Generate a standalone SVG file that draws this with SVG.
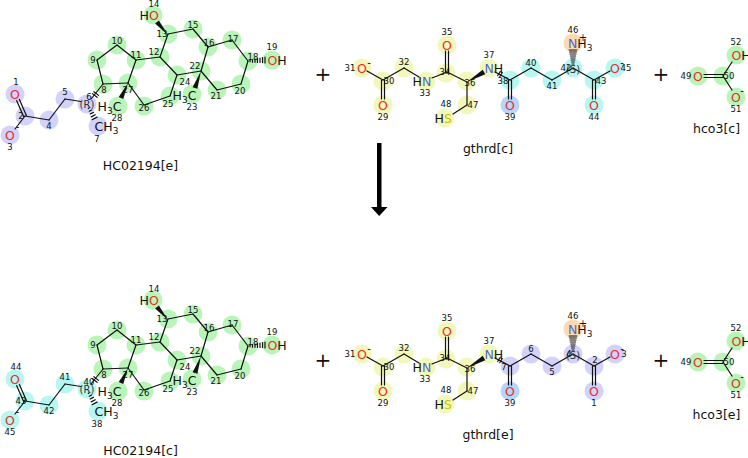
<svg xmlns="http://www.w3.org/2000/svg" width="748" height="458" viewBox="0 0 748 458">
<style>
text{font-family:"DejaVu Sans","Liberation Sans",sans-serif;text-anchor:middle;fill:#111}
.a{font-size:12.5px}
.n{font-size:8.5px}
.s{font-size:10px;fill:#333}
.q{font-size:10px}
.t{font-size:12.5px}
.p{font-size:20px}
.l{text-anchor:start}
.o{fill:#ec2d2d}
.N{fill:#4a68c8}
.S{fill:#c4c400}
.sub{font-size:9px}
circle{stroke:none}
.cl{fill:#d2d2fa}
.cg{fill:#b9f5b9}
.cc{fill:#b6f7f1}
.cy{fill:#f1f8b9}
.co{fill:#fbd9b2}
.cb{fill:#b7d5fb}
line,.b{stroke:#111;stroke-width:1.2;fill:none;stroke-linecap:round}
.w{fill:#111;stroke:none}
</style>
<defs>
<g id="steroidBonds">
<line x1="103" y1="84" x2="97" y2="60"/><line x1="97" y1="60" x2="117" y2="45"/><line x1="117" y1="45" x2="136" y2="60"/><line x1="136" y1="60" x2="128" y2="83"/><line x1="128" y1="83" x2="103" y2="84"/>
<line x1="128" y1="83" x2="144" y2="105"/><line x1="144" y1="105" x2="170" y2="96"/><line x1="170" y1="96" x2="177" y2="75"/><line x1="177" y1="75" x2="160" y2="57"/><line x1="160" y1="57" x2="136" y2="60"/>
<line x1="160" y1="57" x2="168" y2="34"/><line x1="168" y1="34" x2="193" y2="29"/><line x1="193" y1="29" x2="208" y2="47"/><line x1="208" y1="47" x2="201" y2="71"/><line x1="201" y1="71" x2="177" y2="75"/>
<line x1="208" y1="47" x2="232" y2="40"/><line x1="232" y1="40" x2="248" y2="61"/><line x1="248" y1="61" x2="241" y2="84"/><line x1="241" y1="84" x2="217" y2="90"/><line x1="217" y1="90" x2="201" y2="71"/>
<polygon class="w" points="128,83 123.3,99.1 118.7,96.9"/>
<polygon class="w" points="201,71 197.4,88.8 192.6,87.2"/>
<polygon class="w" points="168,35 158.9,20.4 155.1,23.6"/>
<line x1="250" y1="60.2" x2="250" y2="61.8"/><line x1="252.5" y1="59.6" x2="252.5" y2="62.2"/><line x1="255" y1="59.1" x2="255" y2="62.3"/><line x1="257.5" y1="58.6" x2="257.5" y2="62.4"/><line x1="260" y1="58.1" x2="260" y2="62.5"/><line x1="262.5" y1="57.6" x2="262.5" y2="62.6"/><line x1="265" y1="57.1" x2="265" y2="62.9"/>
<line x1="26.4" y1="115.4" x2="19.4" y2="99.4"/><line x1="23.6" y1="116.6" x2="16.6" y2="100.6"/>
<line x1="25" y1="116" x2="15" y2="129"/><line x1="25" y1="116" x2="49" y2="120"/><line x1="49" y1="120" x2="65" y2="99"/><line x1="65" y1="99" x2="81" y2="101.5"/><line x1="91" y1="99" x2="103" y2="84"/>
<line x1="92.4" y1="93.6" x2="97.1" y2="97.3"/><line x1="93.9" y1="91.7" x2="98.6" y2="95.4"/>
<line x1="88.3" y1="108.4" x2="89.7" y2="107.6"/><line x1="89.25" y1="111.2" x2="91.55" y2="110"/><line x1="90.2" y1="114.05" x2="93.4" y2="112.35"/><line x1="91.2" y1="116.9" x2="95.2" y2="114.7"/><line x1="92.1" y1="119.7" x2="97.1" y2="117.1"/>
</g>
<g id="steroidGreen">
<circle class="cg" cx="103" cy="84" r="9.5"/><circle class="cg" cx="97" cy="60" r="9.5"/><circle class="cg" cx="117" cy="45" r="9.5"/><circle class="cg" cx="136" cy="60" r="9.5"/><circle class="cg" cx="128" cy="83" r="9.5"/><circle class="cg" cx="118" cy="106" r="9.5"/><circle class="cg" cx="144" cy="106" r="9.5"/><circle class="cg" cx="170" cy="96" r="9.5"/><circle class="cg" cx="177" cy="75" r="9.5"/><circle class="cg" cx="160" cy="57" r="9.5"/><circle class="cg" cx="168" cy="34" r="9.5"/><circle class="cg" cx="153" cy="15" r="9.5"/><circle class="cg" cx="193" cy="29" r="9.5"/><circle class="cg" cx="208" cy="47" r="9.5"/><circle class="cg" cx="232" cy="40" r="9.5"/><circle class="cg" cx="248" cy="61" r="9.5"/><circle class="cg" cx="272" cy="60" r="9.5"/><circle class="cg" cx="241" cy="84" r="9.5"/><circle class="cg" cx="217" cy="90" r="9.5"/><circle class="cg" cx="201" cy="71" r="9.5"/><circle class="cg" cx="192" cy="94" r="9.5"/>
</g>
<g id="steroidText">
<text class="n" x="104" y="93">8</text><text class="n" x="93" y="63">9</text><text class="n" x="117" y="44">10</text><text class="n" x="136" y="58">11</text><text class="n" x="128" y="93">27</text>
<text class="a l" x="97.5" y="110.5">H<tspan class="sub" dy="3">3</tspan><tspan dy="-3">C</tspan></text><text class="n" x="117" y="121">28</text>
<text class="n" x="144" y="111">26</text><text class="n" x="154" y="55">12</text><text class="n" x="162" y="37">13</text>
<text class="a l" x="139.5" y="19.5">H<tspan class="o">O</tspan></text><text class="n" x="154" y="7">14</text>
<text class="n" x="193" y="28">15</text><text class="n" x="209" y="46">16</text><text class="n" x="233" y="42">17</text><text class="n" x="253" y="60">18</text>
<text class="a l" x="267.5" y="64.5"><tspan class="o">O</tspan>H</text><text class="n" x="272" y="50">19</text>
<text class="n" x="240" y="94">20</text><text class="n" x="216" y="99">21</text><text class="n" x="195" y="69">22</text><text class="n" x="185" y="85">24</text>
<text class="a l" x="172.5" y="99.5">H<tspan class="sub" dy="3">3</tspan><tspan dy="-3">C</tspan></text><text class="n" x="192" y="110">23</text><text class="n" x="168" y="107">25</text>
<text class="a o" x="15" y="98.5">O</text><text class="a o" x="10" y="139.5">O</text><text class="q" x="17.5" y="130">-</text>
<text class="s" x="87" y="107.5">(R)</text>
<text class="a l" x="94.5" y="131">CH<tspan class="sub" dy="3">3</tspan></text>
</g>
<g id="gthBonds">
<line x1="367" y1="71" x2="383" y2="80"/><line x1="381.5" y1="80" x2="381.5" y2="99"/><line x1="384.5" y1="80" x2="384.5" y2="99"/><line x1="383" y1="80" x2="404" y2="68"/><line x1="404" y1="68" x2="419" y2="77"/><line x1="432" y1="78" x2="447" y2="72"/>
<line x1="445.5" y1="72" x2="445.5" y2="51"/><line x1="448.5" y1="72" x2="448.5" y2="51"/><line x1="447" y1="72" x2="467" y2="82"/>
<polygon class="w" points="467,82 485.3,74.2 482.7,69.8"/>
<line x1="467" y1="82" x2="467" y2="105"/><line x1="467" y1="105" x2="453" y2="114"/>
<line x1="495" y1="72" x2="510" y2="80"/><line x1="497.7" y1="75.5" x2="500.3" y2="71.3"/><line x1="499.7" y1="76.7" x2="502.3" y2="72.5"/>
<line x1="508.5" y1="80" x2="508.5" y2="99"/><line x1="511.5" y1="80" x2="511.5" y2="99"/>
<line x1="510" y1="80" x2="531" y2="68"/><line x1="531" y1="68" x2="552" y2="80"/><line x1="552" y1="80" x2="573" y2="68"/>
<line x1="572" y1="64" x2="574" y2="64"/><line x1="571.6" y1="62" x2="574.4" y2="62"/><line x1="571.2" y1="60" x2="574.8" y2="60"/><line x1="570.8" y1="58" x2="575.2" y2="58"/><line x1="570.4" y1="56" x2="575.6" y2="56"/><line x1="570" y1="54" x2="576" y2="54"/><line x1="569.6" y1="52" x2="576.4" y2="52"/><line x1="569.2" y1="50" x2="576.8" y2="50"/>
<line x1="573" y1="68" x2="594" y2="80"/><line x1="592.5" y1="80" x2="592.5" y2="99"/><line x1="595.5" y1="80" x2="595.5" y2="99"/><line x1="594" y1="80" x2="610" y2="71"/>
</g>
<g id="gthYellow">
<circle class="cy" cx="362" cy="68" r="9.5"/><circle class="cy" cx="383" cy="81" r="9.5"/><circle class="cy" cx="383" cy="105" r="9.5"/><circle class="cy" cx="404" cy="68" r="9.5"/><circle class="cy" cx="426" cy="81" r="9.5"/><circle class="cy" cx="446" cy="73" r="9.5"/><circle class="cy" cx="447" cy="45" r="9.5"/><circle class="cy" cx="467" cy="81" r="9.5"/><circle class="cy" cx="489" cy="68" r="9.5"/><circle class="cy" cx="467" cy="105" r="9.5"/><circle class="cy" cx="445" cy="118" r="9.5"/>
<circle class="cb" cx="510" cy="105" r="9.5"/><circle class="co" cx="573" cy="43" r="9.5"/>
</g>
<g id="gthText">
<text class="a o" x="362" y="72.5">O</text><text class="n" x="350" y="71">31</text><text class="q" x="369" y="66">-</text>
<text class="n" x="389" y="84">30</text><text class="a o" x="383" y="109.5">O</text><text class="n" x="383" y="120">29</text>
<text class="n" x="404" y="65">32</text><text class="a l" x="412.5" y="85.5">H<tspan class="N">N</tspan></text><text class="n" x="425" y="96">33</text>
<text class="n" x="445" y="75">34</text><text class="a o" x="447" y="49.5">O</text><text class="n" x="447" y="35">35</text><text class="n" x="470" y="86">36</text>
<text class="a l" x="484.5" y="72.5"><tspan class="N">N</tspan>H</text><text class="n" x="489" y="58">37</text>
<text class="n" x="473" y="108">47</text><text class="a l" x="434.5" y="122.5">H<tspan class="S">S</tspan></text><text class="n" x="446" y="107">48</text>
<text class="a o" x="510" y="109.5">O</text><text class="n" x="510" y="120">39</text>
<text class="s" x="573" y="72.5">(S)</text>
<text class="a l" x="568" y="47.5"><tspan class="N">N</tspan>H<tspan class="sub" dy="3">3</tspan></text><text class="q" x="583" y="40.5">+</text><text class="n" x="573" y="33">46</text>
<text class="a o" x="594" y="109.5">O</text><text class="a o" x="615" y="72.5">O</text><text class="q" x="622" y="66">-</text>
</g>
<g id="hcoAll">
<circle class="cg" cx="698" cy="76" r="9.5"/><circle class="cg" cx="723" cy="76" r="9.5"/><circle class="cg" cx="736" cy="55" r="9.5"/><circle class="cg" cx="736" cy="97" r="9.5"/>
<line x1="704" y1="74.5" x2="723" y2="74.5"/><line x1="704" y1="77.5" x2="723" y2="77.5"/><line x1="723" y1="76" x2="732" y2="62"/><line x1="723" y1="76" x2="732" y2="90"/>
<text class="a o" x="698" y="80.5">O</text><text class="n" x="686" y="79">49</text><text class="n" x="729" y="79">50</text>
<text class="a l" x="731.5" y="59.5"><tspan class="o">O</tspan>H</text><text class="n" x="736" y="45">52</text>
<text class="a o" x="736" y="101.5">O</text><text class="q" x="742" y="94">-</text><text class="n" x="736" y="112">51</text>
</g>
</defs>

<g id="HC02194_e">
<circle class="cl" cx="15" cy="94" r="9.5"/><circle class="cl" cx="25" cy="116" r="9.5"/><circle class="cl" cx="10" cy="135" r="9.5"/><circle class="cl" cx="49" cy="120" r="9.5"/><circle class="cl" cx="65" cy="99" r="9.5"/><circle class="cl" cx="87" cy="104" r="9.5"/><circle class="cl" cx="98" cy="126" r="9.5"/>
<use href="#steroidGreen"/>
<use href="#steroidBonds"/>
<use href="#steroidText"/>
<text class="n" x="16" y="85">1</text><text class="n" x="21" y="119">2</text><text class="n" x="10" y="150">3</text><text class="n" x="49" y="129">4</text><text class="n" x="65" y="95">5</text><text class="n" x="89" y="100">6</text><text class="n" x="97" y="142">7</text>
<text class="t" x="140.5" y="170">HC02194[e]</text>
</g>

<g id="gthrd_c">
<circle class="cc" cx="510" cy="80" r="9.5"/><circle class="cc" cx="531" cy="68" r="9.5"/><circle class="cc" cx="552" cy="80" r="9.5"/><circle class="cc" cx="573" cy="68" r="9.5"/><circle class="cc" cx="594" cy="80" r="9.5"/><circle class="cc" cx="594" cy="105" r="9.5"/><circle class="cc" cx="615" cy="68" r="9.5"/>
<use href="#gthYellow"/>
<use href="#gthBonds"/>
<use href="#gthText"/>
<text class="n" x="503" y="84">38</text><text class="n" x="531" y="66">40</text><text class="n" x="552" y="89">41</text><text class="n" x="566" y="71">42</text><text class="n" x="601" y="84">43</text><text class="n" x="594" y="120">44</text><text class="n" x="626" y="71">45</text>
<text class="t" x="488" y="153">gthrd[c]</text>
</g>

<g id="hco3_c">
<use href="#hcoAll"/>
<text class="t" x="716.5" y="133">hco3[c]</text>
</g>

<g id="HC02194_c" transform="translate(0,285)">
<circle class="cc" cx="15" cy="94" r="9.5"/><circle class="cc" cx="25" cy="116" r="9.5"/><circle class="cc" cx="10" cy="135" r="9.5"/><circle class="cc" cx="49" cy="120" r="9.5"/><circle class="cc" cx="65" cy="99" r="9.5"/><circle class="cc" cx="87" cy="104" r="9.5"/><circle class="cc" cx="98" cy="126" r="9.5"/>
<use href="#steroidGreen"/>
<use href="#steroidBonds"/>
<use href="#steroidText"/>
<text class="n" x="16" y="85">44</text><text class="n" x="21" y="119">43</text><text class="n" x="10" y="150">45</text><text class="n" x="49" y="129">42</text><text class="n" x="65" y="95">41</text><text class="n" x="89" y="100">40</text><text class="n" x="97" y="142">38</text>
<text class="t" x="140.5" y="170">HC02194[c]</text>
</g>

<g id="gthrd_e" transform="translate(0,286)">
<circle class="cl" cx="510" cy="80" r="9.5"/><circle class="cl" cx="531" cy="68" r="9.5"/><circle class="cl" cx="552" cy="80" r="9.5"/><circle class="cl" cx="573" cy="68" r="9.5"/><circle class="cl" cx="594" cy="80" r="9.5"/><circle class="cl" cx="594" cy="105" r="9.5"/><circle class="cl" cx="615" cy="68" r="9.5"/>
<use href="#gthYellow"/>
<use href="#gthBonds"/>
<use href="#gthText"/>
<text class="n" x="504" y="84">7</text><text class="n" x="531" y="66">6</text><text class="n" x="552" y="89">5</text><text class="n" x="569" y="71">4</text><text class="n" x="595" y="77">2</text><text class="n" x="594" y="120">1</text><text class="n" x="624" y="71">3</text>
<text class="t" x="488" y="153">gthrd[e]</text>
</g>

<g id="hco3_e" transform="translate(0,286)">
<use href="#hcoAll"/>
<text class="t" x="716.5" y="133">hco3[e]</text>
</g>

<g id="plus">
<text class="p" x="323" y="81">+</text><text class="p" x="661" y="81">+</text>
<text class="p" x="323" y="367">+</text><text class="p" x="661" y="367">+</text>
</g>

<g id="connectors">
<rect x="377" y="143" width="4.5" height="65" fill="#000"/>
<polygon points="371,207 387.5,207 379.2,216" fill="#000"/>
</g>
</svg>
